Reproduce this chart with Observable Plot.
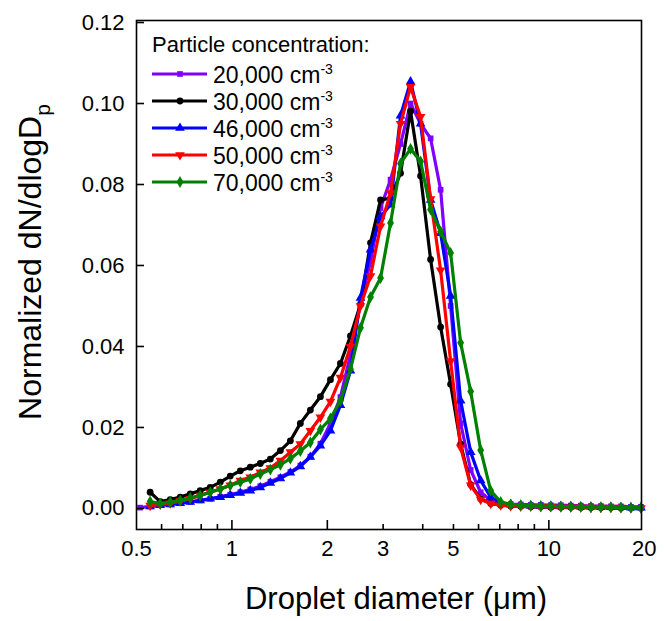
<!DOCTYPE html>
<html><head><meta charset="utf-8">
<script src="https://cdn.jsdelivr.net/npm/d3@7"></script>
<script src="https://cdn.jsdelivr.net/npm/@observablehq/plot@0.6"></script>
<style>
body{margin:0;background:#fff;font-family:Arial,"Liberation Sans",sans-serif}
#chart{position:relative;width:664px;height:621px}
</style>
</head><body><div id="chart"></div>
<script>
// Droplet diameters (µm)
const diameters = [0.513, 0.552, 0.594, 0.639, 0.687, 0.739, 0.794, 0.854, 0.919, 0.988,
  1.063, 1.143, 1.229, 1.322, 1.422, 1.529, 1.644, 1.768, 1.902, 2.046,
  2.200, 2.366, 2.545, 2.737, 2.944, 3.166, 3.404, 3.661, 3.938, 4.235,
  4.555, 4.898, 5.268, 5.666, 6.094, 6.554, 7.047, 7.579, 8.151, 8.767,
  9.428, 10.14, 10.91, 11.73, 12.61, 13.57, 14.59, 15.69, 16.88, 18.15, 19.52];

const conc20000 = [0.0002, 0.0005, 0.0008, 0.0010, 0.0013, 0.0016, 0.0020, 0.0024, 0.0029, 0.0034,
  0.0040, 0.0047, 0.0055, 0.0066, 0.0077, 0.0090, 0.0106, 0.0128, 0.0160, 0.0210,
  0.0275, 0.0380, 0.0505, 0.0610, 0.0742, 0.0812, 0.0900, 0.1000, 0.0950, 0.0914,
  0.0787, 0.0500, 0.0210, 0.0095, 0.0040, 0.0020, 0.0013, 0.0011, 0.0010, 0.0009,
  0.0009, 0.0008, 0.0008, 0.0007, 0.0007, 0.0006, 0.0006, 0.0005, 0.0005, 0.0004, 0.0004];

const conc30000 = [null, 0.0040, 0.0017, 0.0022, 0.0028, 0.0036, 0.0044, 0.0052, 0.0065, 0.0080,
  0.0093, 0.0102, 0.0111, 0.0122, 0.0143, 0.0167, 0.0210, 0.0243, 0.0276, 0.0318,
  0.0358, 0.0426, 0.0504, 0.0656, 0.0762, 0.0766, 0.0828, 0.0981, 0.0821, 0.0615,
  0.0448, 0.0307, 0.0159, 0.0059, 0.0024, 0.0012, 0.0008, 0.0006, 0.0005, 0.0004,
  0.0004, 0.0003, 0.0003, 0.0003, 0.0002, 0.0002, 0.0002, 0.0002, 0.0001, 0.0001, 0.0001];

const conc46000 = [null, 0.0005, 0.0008, 0.0010, 0.0013, 0.0016, 0.0020, 0.0024, 0.0028, 0.0033,
  0.0038, 0.0044, 0.0052, 0.0063, 0.0074, 0.0088, 0.0104, 0.0127, 0.0155, 0.0192,
  0.0255, 0.0340, 0.0520, 0.0639, 0.0721, 0.0750, 0.0970, 0.1054, 0.0950, 0.0762,
  0.0680, 0.0525, 0.0266, 0.0139, 0.0069, 0.0028, 0.0014, 0.0010, 0.0008, 0.0007,
  0.0006, 0.0006, 0.0005, 0.0005, 0.0004, 0.0004, 0.0003, 0.0003, 0.0003, 0.0002, 0.0002];

const conc50000 = [null, 0.0007, 0.0010, 0.0013, 0.0018, 0.0024, 0.0032, 0.0040, 0.0048, 0.0057,
  0.0069, 0.0077, 0.0089, 0.0100, 0.0118, 0.0139, 0.0159, 0.0192, 0.0225, 0.0264,
  0.0323, 0.0400, 0.0500, 0.0574, 0.0697, 0.0779, 0.0950, 0.1041, 0.0967, 0.0764,
  0.0588, 0.0364, 0.0151, 0.0057, 0.0022, 0.0012, 0.0008, 0.0006, 0.0005, 0.0005,
  0.0004, 0.0004, 0.0003, 0.0003, 0.0003, 0.0002, 0.0002, 0.0002, 0.0002, 0.0001, 0.0001];

const conc70000 = [null, 0.0017, 0.0012, 0.0016, 0.0020, 0.0026, 0.0032, 0.0040, 0.0048, 0.0057,
  0.0065, 0.0073, 0.0085, 0.0096, 0.0108, 0.0123, 0.0142, 0.0163, 0.0195, 0.0222,
  0.0266, 0.0344, 0.0446, 0.0522, 0.0569, 0.0705, 0.0852, 0.0888, 0.0857, 0.0738,
  0.0684, 0.0631, 0.0409, 0.0289, 0.0144, 0.0044, 0.0016, 0.0010, 0.0008, 0.0007,
  0.0006, 0.0005, 0.0005, 0.0004, 0.0004, 0.0003, 0.0003, 0.0003, 0.0002, 0.0002, 0.0002];

const seriesLabels = ["20,000", "30,000", "46,000", "50,000", "70,000"];
const seriesValues = [conc20000, conc30000, conc46000, conc50000, conc70000];
const seriesColors = ["#8000ff", "#000000", "#0000ff", "#ff0000", "#008000"];

const xTicksMajor = [1, 2, 10];
const xTicksMinor = [0.6, 0.7, 0.8, 0.9, 3, 4, 5, 6, 7, 8, 9];
const xTickLabels = [0.5, 0.8, 1, 2, 3, 5, 8, 10, 20];
const yTicks = [0, 0.02, 0.04, 0.06, 0.08, 0.10, 0.12];

// symbols
const triangleDown = {
  draw(ctx, size) {
    const y = -Math.sqrt(size / (Math.sqrt(3) * 3));
    ctx.moveTo(0, -y * 2);
    ctx.lineTo(-Math.sqrt(3) * y, y);
    ctx.lineTo(Math.sqrt(3) * y, y);
    ctx.closePath();
  }
};
const seriesSymbols = ["square", "circle", "triangle", triangleDown, "diamond"];
const seriesR = [3.2, 3.4, 3.6, 3.6, 3.6];

const rows = [];
seriesValues.forEach((vals, s) => {
  vals.forEach((v, i) => { if (v != null) rows.push({d: diameters[i], v, s}); });
});

const marks = [];
seriesLabels.forEach((_, s) => {
  const data = rows.filter(r => r.s === s);
  marks.push(Plot.line(data, {x: "d", y: "v", stroke: seriesColors[s], strokeWidth: 3.2}));
  marks.push(Plot.dot(data, {x: "d", y: "v", fill: seriesColors[s], stroke: "none", symbol: seriesSymbols[s], r: seriesR[s]}));
});

const W = 664, H = 621;
const plot = Plot.plot({
  width: W, height: H,
  marginLeft: 136, marginRight: 23, marginTop: 20, marginBottom: 92,
  style: {fontFamily: "Arial, 'Liberation Sans', sans-serif", fontSize: "22px", color: "#000", background: "#fff"},
  x: {type: "log", domain: [0.5, 19.6]},
  y: {domain: [-0.0052, 0.1205]},
  marks: [
    ...marks,
    Plot.frame({stroke: "#000", strokeWidth: 1.6}),
    Plot.axisX({ticks: xTicksMajor, tickSize: -9, tickFormat: () => "", strokeWidth: 1.6, label: null}),
    Plot.axisX({ticks: xTicksMinor, tickSize: -5, tickFormat: () => "", strokeWidth: 1.6, label: null}),
    Plot.axisX({ticks: xTickLabels, tickSize: 0, tickPadding: 11, tickFormat: d => String(d), label: null}),
    Plot.axisY({ticks: yTicks, tickSize: -8, tickFormat: () => "", strokeWidth: 1.6, label: null}),
    Plot.axisY({ticks: yTicks, tickSize: 0, tickPadding: 12, tickFormat: d3.format(".2f"), label: null})
  ]
});
document.getElementById("chart").appendChild(plot);

const svg = d3.select(plot);
const font = "Arial, 'Liberation Sans', sans-serif";

// axis titles
svg.append("text")
  .attr("x", 396).attr("y", 609)
  .attr("text-anchor", "middle").attr("font-size", 31).attr("font-family", font).attr("fill", "#000")
  .text("Droplet diameter (\u03bcm)");

const yt = svg.append("text")
  .attr("transform", "translate(41,262) rotate(-90)")
  .attr("text-anchor", "middle").attr("font-size", 32).attr("font-family", font).attr("fill", "#000");
yt.append("tspan").text("Normalized dN/dlogD");
yt.append("tspan").attr("font-size", 21).attr("dy", 9).text("p");

// legend
const lg = svg.append("g").attr("font-family", font).attr("fill", "#000").attr("text-anchor", "start");
lg.append("text").attr("x", 152).attr("y", 52).attr("font-size", 22).text("Particle concentration:");
const rowY = [74, 101, 128, 155, 182];
seriesLabels.forEach((lab, s) => {
  const y = rowY[s];
  lg.append("line").attr("x1", 152).attr("x2", 207).attr("y1", y).attr("y2", y)
    .attr("stroke", seriesColors[s]).attr("stroke-width", 3.2);
  const sym = typeof seriesSymbols[s] === "string"
    ? {square: d3.symbolSquare, circle: d3.symbolCircle, triangle: d3.symbolTriangle, diamond: d3.symbolDiamond}[seriesSymbols[s]]
    : seriesSymbols[s];
  lg.append("path").attr("transform", `translate(180,${y})`)
    .attr("d", d3.symbol(sym, Math.PI * seriesR[s] * seriesR[s])())
    .attr("fill", seriesColors[s]);
  const t = lg.append("text").attr("x", 213).attr("y", y + 8.5).attr("font-size", 23);
  t.append("tspan").text(lab + " cm");
  t.append("tspan").attr("font-size", 14).attr("dy", -9).text("-3");
});
</script>
</body></html>
